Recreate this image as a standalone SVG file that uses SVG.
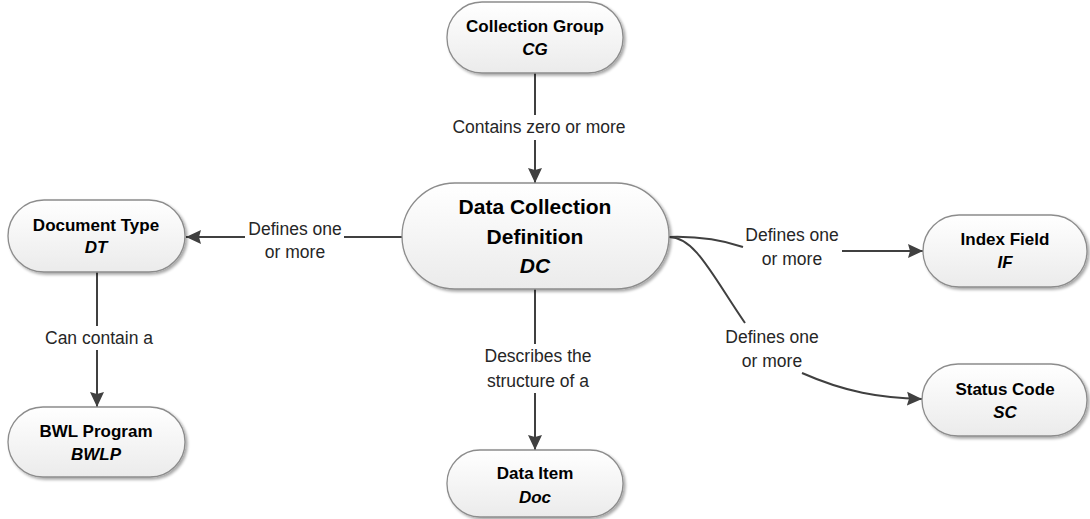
<svg xmlns="http://www.w3.org/2000/svg" width="1090" height="519" viewBox="0 0 1090 519">
<style>
.box{fill:url(#g);stroke:#8c8c8c;stroke-width:1.3;filter:url(#sh)}
.t{font-family:"Liberation Sans",Arial,sans-serif;font-weight:bold;font-size:17px;fill:#000;text-anchor:middle}
.ti{font-style:italic}
.big{font-size:21px}
.lbl{font-family:"Liberation Sans",Arial,sans-serif;font-size:17.5px;fill:#262626;text-anchor:middle}
.e{fill:none;stroke:#404040;stroke-width:2}
.a{marker-end:url(#ah)}
</style>
<defs>
<linearGradient id="g" x1="0" y1="0" x2="0" y2="1">
<stop offset="0" stop-color="#ffffff"/>
<stop offset="1" stop-color="#ebebeb"/>
</linearGradient>
<filter id="sh" x="-10%" y="-10%" width="125%" height="130%">
<feGaussianBlur in="SourceAlpha" stdDeviation="1.5"/>
<feOffset dx="1.5" dy="2" result="b"/>
<feComponentTransfer><feFuncA type="linear" slope="0.35"/></feComponentTransfer>
<feMerge><feMergeNode/><feMergeNode in="SourceGraphic"/></feMerge>
</filter>
<marker id="ah" markerWidth="16" markerHeight="16" refX="15" refY="8" orient="auto" markerUnits="userSpaceOnUse">
<path d="M0,1 L15,8 L0,15 L2,8 Z" fill="#404040"/>
</marker>
</defs>
<g id="connectors">
<path class="e" d="M535,73 L535,115"/>
<path class="e a" d="M535,140 L535,183"/>
<path class="e" d="M402,237 L344,237"/>
<path class="e a" d="M245,237 L186,237"/>
<path class="e" d="M97,272 L97,326"/>
<path class="e a" d="M97,350 L97,407"/>
<path class="e" d="M535,289 L535,344"/>
<path class="e a" d="M535,393 L535,450"/>
<path class="e" d="M669,237 C700,236 725,241 743,247"/>
<path class="e a" d="M842,251 L923,251"/>
<path class="e" d="M669,237 C695,237 712,275 745,323"/>
<path class="e a" d="M802,373 C845,392 880,398 922,399"/>
<text class="lbl" x="539" y="133">Contains zero or more</text>
<text class="lbl" x="295" y="235">Defines one</text>
<text class="lbl" x="295" y="258">or more</text>
<text class="lbl" x="792" y="241">Defines one</text>
<text class="lbl" x="792" y="265">or more</text>
<text class="lbl" x="772" y="343">Defines one</text>
<text class="lbl" x="772" y="367">or more</text>
<text class="lbl" x="99" y="344">Can contain a</text>
<text class="lbl" x="538" y="362">Describes the</text>
<text class="lbl" x="538" y="387">structure of a</text>
</g>
<g id="cg">
<rect class="box" x="447" y="2" width="176" height="71" rx="35" ry="35"/>
<text class="t" x="535" y="32">Collection Group</text>
<text class="t ti" x="535" y="55">CG</text>
</g>
<g id="dc">
<rect class="box" x="402" y="183" width="267" height="106" rx="53" ry="53"/>
<text class="t big" x="535" y="214">Data Collection</text>
<text class="t big" x="535" y="244">Definition</text>
<text class="t big ti" x="535" y="273">DC</text>
</g>
<g id="dt">
<rect class="box" x="8" y="200" width="177" height="72" rx="36" ry="36"/>
<text class="t" x="96" y="231">Document Type</text>
<text class="t ti" x="96" y="253">DT</text>
</g>
<g id="bwlp">
<rect class="box" x="8" y="407" width="177" height="70" rx="35" ry="35"/>
<text class="t" x="96" y="437">BWL Program</text>
<text class="t ti" x="96" y="460">BWLP</text>
</g>
<g id="if">
<rect class="box" x="923" y="215" width="164" height="72" rx="36" ry="36"/>
<text class="t" x="1005" y="245">Index Field</text>
<text class="t ti" x="1005" y="268">IF</text>
</g>
<g id="sc">
<rect class="box" x="922" y="364" width="165" height="72" rx="36" ry="36"/>
<text class="t" x="1005" y="395">Status Code</text>
<text class="t ti" x="1005" y="418">SC</text>
</g>
<g id="doc">
<rect class="box" x="447" y="450" width="176" height="67" rx="33" ry="33"/>
<text class="t" x="535" y="479">Data Item</text>
<text class="t ti" x="535" y="503">Doc</text>
</g>
</svg>
